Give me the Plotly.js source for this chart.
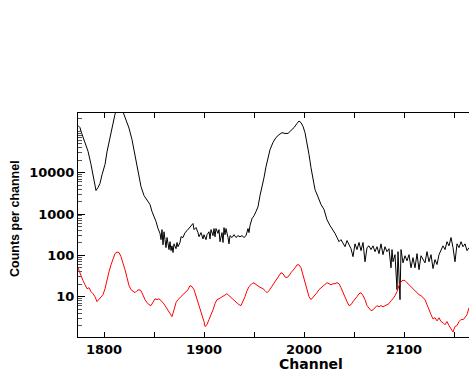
<!DOCTYPE html>
<html>
<head>
<meta charset="utf-8">
<script src="https://cdn.plot.ly/plotly-3.0.1.min.js"></script>
<style>
  html, body { margin: 0; padding: 0; background: #ffffff; }
  #spectrum { width: 469px; height: 382px; }
</style>
</head>
<body>
<div id="spectrum"></div>
<script>
const TEXT_COLOR = "#000000";
const UPPER_COLOR = "#000000";
const LOWER_COLOR = "#ff0000";

// upper spectrum (black)
const blackChannels = [
  1774, 1776, 1777, 1780, 1784, 1787, 1789, 1791, 1792, 1794, 1796, 1798,
  1801, 1803, 1806, 1808, 1811, 1813, 1815, 1817, 1819, 1821, 1822, 1825,
  1828, 1831, 1834, 1837, 1840, 1843, 1846, 1848, 1850, 1852, 1854, 1856,
  1857, 1858, 1859, 1860, 1861, 1862, 1863, 1864, 1865, 1866, 1867, 1868,
  1869, 1870, 1872, 1873, 1874, 1876, 1877, 1879, 1881, 1883, 1885, 1887,
  1889, 1890, 1892, 1894, 1895, 1897, 1899, 1900, 1902, 1903, 1905, 1906,
  1907, 1909, 1910, 1911, 1912, 1914, 1915, 1916, 1918, 1919, 1920, 1921,
  1922, 1924, 1925, 1926, 1928, 1930, 1932, 1934, 1936, 1938, 1940, 1942,
  1944, 1945, 1946, 1948, 1950, 1952, 1954, 1956, 1958, 1960, 1962, 1964,
  1966, 1969, 1972, 1975, 1978, 1981, 1984, 1987, 1990, 1993, 1995, 1997,
  1999, 2001, 2003, 2005, 2007, 2009, 2011, 2014, 2017, 2020, 2023, 2026,
  2028, 2031, 2033, 2035, 2037, 2039, 2041, 2043, 2045, 2047, 2049, 2051,
  2053, 2055, 2057, 2059, 2061, 2063, 2065, 2067, 2069, 2071, 2073, 2075,
  2077, 2079, 2081, 2083, 2085, 2087, 2088, 2089, 2091, 2093, 2094, 2096,
  2097, 2099, 2101, 2103, 2105, 2107, 2109, 2111, 2113, 2115, 2117, 2119,
  2121, 2123, 2125, 2127, 2129, 2131, 2133, 2135, 2137, 2139, 2141, 2143,
  2145, 2147, 2149, 2151, 2153, 2155, 2157, 2159, 2161, 2163, 2165
];
const blackCounts = [
  138000, 123000, 100000, 63000, 33000, 15800, 8900, 4600, 3700, 4400, 5500, 8900,
  15800, 32000, 71000, 138000, 260000, 360000, 420000, 400000, 290000, 230000, 200000, 120000,
  63000, 27500, 10700, 4600, 2800, 2100, 1700, 1150, 910, 660, 445, 340,
  240, 420, 180, 372, 240, 154, 270, 190, 138, 214, 130, 170,
  117, 190, 145, 205, 162, 205, 282, 270, 355, 396, 445, 525,
  590, 420, 470, 355, 282, 355, 250, 316, 240, 316, 372, 250,
  420, 300, 445, 282, 445, 340, 420, 214, 355, 205, 470, 316,
  445, 270, 190, 300, 270, 316, 270, 300, 282, 300, 270, 300,
  445, 355, 525, 775, 910, 1150, 1500, 2800, 4400, 7600, 14000, 23000,
  36000, 54000, 71000, 83000, 93000, 89000, 89000, 105000, 123000, 155000, 178000, 162000,
  132000, 93000, 54000, 27500, 13200, 6800, 3900, 2600, 1700, 1290, 725, 525,
  445, 340, 270, 214, 240, 190, 162, 228, 180, 145, 93, 190,
  138, 205, 130, 205, 70, 154, 170, 138, 170, 123, 162, 110,
  190, 104, 162, 123, 145, 50, 138, 70, 104, 14.8, 123, 8.5,
  138, 66, 98, 74, 104, 50, 88, 50, 110, 45, 98, 79,
  66, 123, 70, 104, 48, 79, 60, 104, 138, 170, 138, 214,
  170, 270, 154, 70, 190, 154, 214, 162, 190, 130, 154
];

// lower spectrum (red)
const redChannels = [
  1774, 1776, 1779, 1781, 1783, 1785, 1787, 1789, 1791, 1793, 1795, 1797,
  1799, 1801, 1803, 1805, 1807, 1809, 1811, 1813, 1815, 1817, 1819, 1821,
  1823, 1825, 1827, 1829, 1831, 1833, 1835, 1837, 1839, 1841, 1843, 1845,
  1847, 1849, 1851, 1853, 1855, 1857, 1859, 1861, 1863, 1865, 1867, 1868,
  1870, 1872, 1874, 1876, 1878, 1880, 1882, 1884, 1886, 1888, 1890, 1892,
  1894, 1896, 1898, 1900, 1901, 1903, 1905, 1907, 1909, 1911, 1913, 1915,
  1917, 1919, 1921, 1923, 1925, 1927, 1929, 1931, 1933, 1935, 1937, 1939,
  1941, 1943, 1945, 1947, 1949, 1951, 1953, 1955, 1957, 1959, 1961, 1963,
  1965, 1967, 1969, 1971, 1973, 1975, 1977, 1979, 1981, 1983, 1985, 1987,
  1989, 1991, 1993, 1995, 1997, 1999, 2001, 2003, 2005, 2007, 2009, 2011,
  2013, 2015, 2017, 2019, 2021, 2023, 2025, 2027, 2029, 2031, 2033, 2035,
  2037, 2039, 2041, 2043, 2045, 2047, 2049, 2051, 2053, 2055, 2057, 2059,
  2061, 2063, 2065, 2067, 2069, 2071, 2073, 2075, 2077, 2079, 2081, 2083,
  2085, 2087, 2089, 2091, 2093, 2095, 2097, 2099, 2101, 2103, 2105, 2107,
  2109, 2111, 2113, 2115, 2117, 2119, 2121, 2123, 2125, 2127, 2129, 2131,
  2133, 2135, 2137, 2139, 2141, 2143, 2145, 2147, 2149, 2151, 2153, 2155,
  2157, 2159, 2161, 2163, 2165
];
const redCounts = [
  50, 36, 24.5, 19.5, 15.6, 16.5, 13.2, 11.8, 10, 7.6, 8.5, 9.5,
  11.2, 15.6, 27, 40, 59, 83, 110, 120, 117, 93, 66, 45,
  29, 18.5, 14.8, 13.2, 12.5, 14, 14.8, 14, 10.6, 8.5, 7.2, 6.4,
  6.1, 7.6, 8.9, 8.5, 8.9, 8.0, 7.2, 6.1, 5.1, 4.6, 3.7, 3.3,
  4.8, 7.2, 8.5, 9.5, 10.6, 11.8, 13.2, 14.8, 18.5, 17.5, 14.8, 10.6,
  7.6, 5.1, 3.5, 2.5, 1.9, 2.1, 2.8, 3.5, 4.8, 6.8, 8.5, 8.9,
  9.5, 10.6, 11.2, 11.8, 10.6, 9.5, 8.5, 7.6, 7.2, 6.4, 6.1, 7.6,
  10, 14, 17.5, 19.5, 21.8, 20.6, 18.5, 17.5, 16.5, 15.6, 14, 12.5,
  14, 16.5, 19.5, 23, 26, 32, 38, 36, 30, 29, 32, 38,
  43, 50, 59, 59, 50, 34, 21.8, 14.8, 10, 8.5, 9.5, 10.6,
  12.5, 14.8, 16.5, 18.5, 20.6, 21.8, 20.6, 19.5, 20.6, 20.6, 21.8, 20.6,
  16.5, 12.5, 9.5, 7.6, 6.1, 6.4, 7.6, 8.5, 10, 11.8, 12.5, 10.6,
  8.5, 6.1, 5.1, 4.6, 4.8, 5.4, 6.1, 5.7, 6.1, 5.7, 6.1, 6.4,
  6.8, 8.0, 8.9, 10.6, 13.2, 18.5, 23, 25, 24.5, 21.8, 19.5, 17.5,
  14.8, 13.2, 12.5, 11.2, 10.6, 9.5, 8.5, 6.4, 4.6, 3.7, 2.9, 3.1,
  2.6, 3.1, 2.5, 2.35, 2.1, 2.5, 2.0, 1.7, 1.4, 1.9, 2.0, 2.5,
  2.8, 2.8, 3.1, 3.7, 5.4
];

const xTickVals = [1800, 1900, 2000, 2100];
const yTickVals = [10, 100, 1000, 10000];
const yTickText = ["10", "100", "1000", "10000"];

const traces = [
  {
    x: blackChannels,
    y: blackCounts,
    type: "scatter",
    mode: "lines",
    line: { color: UPPER_COLOR, width: 1 },
    hoverinfo: "none",
  },
  {
    x: redChannels,
    y: redCounts,
    type: "scatter",
    mode: "lines",
    line: { color: LOWER_COLOR, width: 1 },
    hoverinfo: "none",
  },
];

const tickFont = { family: "DejaVu Sans", size: 13, color: TEXT_COLOR, weight: "bold" };

const layout = {
  width: 469,
  height: 382,
  margin: { l: 78, r: 0, t: 113, b: 45 },
  paper_bgcolor: "#ffffff",
  plot_bgcolor: "#ffffff",
  showlegend: false,
  font: { family: "DejaVu Sans", color: TEXT_COLOR },
  xaxis: {
    range: [1774, 2165],
    tickvals: xTickVals,
    ticks: "inside",
    ticklen: 5,
    tickwidth: 1,
    tickcolor: "#000",
    minor: { dtick: 50, ticks: "inside", ticklen: 5, tickcolor: "#000", showgrid: false },
    showline: true,
    linecolor: "#000",
    linewidth: 1,
    mirror: "ticks",
    showgrid: false,
    zeroline: false,
    tickfont: tickFont,
  },
  yaxis: {
    type: "log",
    range: [0.025, 5.444],
    tickvals: yTickVals,
    ticktext: yTickText,
    ticks: "inside",
    ticklen: 7,
    tickwidth: 1,
    tickcolor: "#000",
    minor: { dtick: "D1", ticks: "inside", ticklen: 4, tickcolor: "#555", showgrid: false },
    showline: true,
    linecolor: "#000",
    linewidth: 1,
    showgrid: false,
    zeroline: false,
    tickfont: tickFont,
  },
  annotations: [
    {
      text: "Channel",
      xref: "x",
      yref: "paper",
      x: 2007,
      y: -0.12,
      xanchor: "center",
      yanchor: "middle",
      showarrow: false,
      font: { family: "DejaVu Sans", size: 14, weight: "bold", color: TEXT_COLOR },
    },
    {
      text: "Counts per channel",
      xref: "paper",
      yref: "paper",
      x: -0.161,
      y: 0.527,
      xanchor: "center",
      yanchor: "middle",
      textangle: -90,
      showarrow: false,
      font: { family: "Liberation Sans", size: 12.5, weight: "bold", color: TEXT_COLOR },
    },
  ],
};

Plotly.newPlot("spectrum", traces, layout, { displayModeBar: false, staticPlot: true });
</script>
</body>
</html>
